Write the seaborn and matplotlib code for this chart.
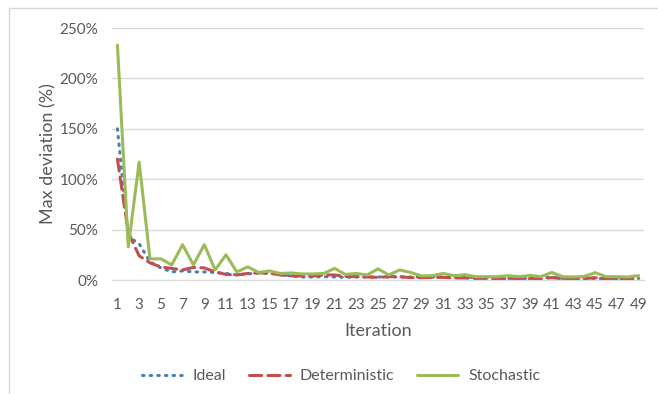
import numpy as np
import pandas as pd
import seaborn as sns
import matplotlib.pyplot as plt
from matplotlib.ticker import PercentFormatter
from matplotlib.patches import Rectangle

# values (percent)
iterations = list(range(1, 50))
ideal = [150, 43, 36, 18, 12, 8, 9, 8, 8, 7.5,
         6.5, 5, 6, 7, 6.5, 5.5, 4, 3, 3, 3.3,
         3, 2.6, 3, 3, 3, 3, 3, 3, 3, 3,
         3, 3, 2.6, 2.6, 2.3, 1.6, 1.6, 1.6, 1.6, 1.6,
         3, 1.6, 1.6, 1.6, 1.6, 1.3, 1.3, 1.3, 1.6]
deterministic = [120, 47, 24, 17, 13, 11.5, 10, 12.5, 12, 8,
                 5.5, 5, 6.5, 7, 7, 5, 4, 4, 4, 5,
                 5, 3.5, 3.3, 3, 2.6, 3.3, 3.3, 2.3, 2.3, 2.6,
                 2.6, 2, 2, 1.6, 1.6, 1.3, 1.3, 1.3, 1.3, 1.3,
                 2.3, 1.3, 1.3, 1.3, 2.3, 1.3, 1.3, 1.3, 1.3]
stochastic = [233, 33, 117, 21, 21, 15, 35, 15, 35, 10,
              25, 8, 13, 7.5, 9, 6.5, 7, 6, 6, 6.5,
              11.5, 5.5, 6.5, 5, 11, 5, 10, 7.5, 4, 4.3,
              6.5, 4.3, 5.3, 3.3, 3.3, 3.3, 4.3, 3.3, 4.6, 3.3,
              7.5, 3.3, 3, 3.5, 7.3, 3.3, 3.3, 3, 4.3]

series_names = ["Ideal", "Deterministic", "Stochastic"]
colors = {"Ideal": "#4A7EBB", "Deterministic": "#C0504D", "Stochastic": "#9BBB59"}
dashes = {"Ideal": (0.5, 2.0), "Deterministic": (4, 2), "Stochastic": ""}

df = pd.DataFrame({
    "Iteration": iterations * 3,
    "value": np.array(ideal + deterministic + stochastic) / 100.0,
    "series": sum([[s] * len(iterations) for s in series_names], []),
})

sns.set_style("white")
plt.rcParams["font.family"] = ["Lato", "DejaVu Sans"]
text_col = "#595959"
grid_col = "#D9D9D9"

fig = plt.figure(figsize=(6.58, 3.94), dpi=100)
ax = fig.add_axes([112 / 658, 1 - 280 / 394, (644 - 112) / 658, (280 - 28) / 394])

sns.lineplot(data=df, x="Iteration", y="value", hue="series", style="series",
             hue_order=series_names, style_order=series_names,
             palette=colors, dashes=dashes, linewidth=2.2, ax=ax, legend=True)
for ln in ax.get_lines():
    ln.set_dash_capstyle("round")

ax.set_xlim(0.5, 49.5)
ax.set_ylim(0, 2.5 + 1e-6)
ax.set_xticks(range(1, 50, 2))
ax.set_yticks(np.arange(0, 2.51, 0.5))
ax.yaxis.set_major_formatter(PercentFormatter(1.0, decimals=0))
ax.tick_params(axis="both", length=0, labelsize=11, colors=text_col)
ax.tick_params(axis="x", pad=13)
ax.tick_params(axis="y", pad=10)
ax.grid(axis="y", color=grid_col, linewidth=1)
ax.set_axisbelow(True)
for side in ["top", "right", "left"]:
    ax.spines[side].set_visible(False)
ax.spines["bottom"].set_color(grid_col)

ax.set_xlabel("Iteration", fontsize=13, color=text_col, labelpad=8)
ax.set_ylabel("Max deviation (%)", fontsize=13, color=text_col, labelpad=2)

handles, labels = ax.get_legend_handles_labels()
ax.legend_.remove()
for h in handles:
    h.set_dash_capstyle("round")
fig.legend(handles, labels, loc="center", bbox_to_anchor=(341 / 658, 1 - 376 / 394),
           ncol=3, frameon=False, fontsize=11.5, handlelength=2.6, columnspacing=1.4,
           handletextpad=0.6, labelcolor=text_col)

# light chart border (only left and top edges are visible in the crop)
fig.patches.append(Rectangle((9 / 658, -0.1), 1.2, 1 - 8 / 394 + 0.1,
                             transform=fig.transFigure, fill=False,
                             edgecolor="#D9D9D9", linewidth=1))

fig.savefig("out.png", dpi=100)
